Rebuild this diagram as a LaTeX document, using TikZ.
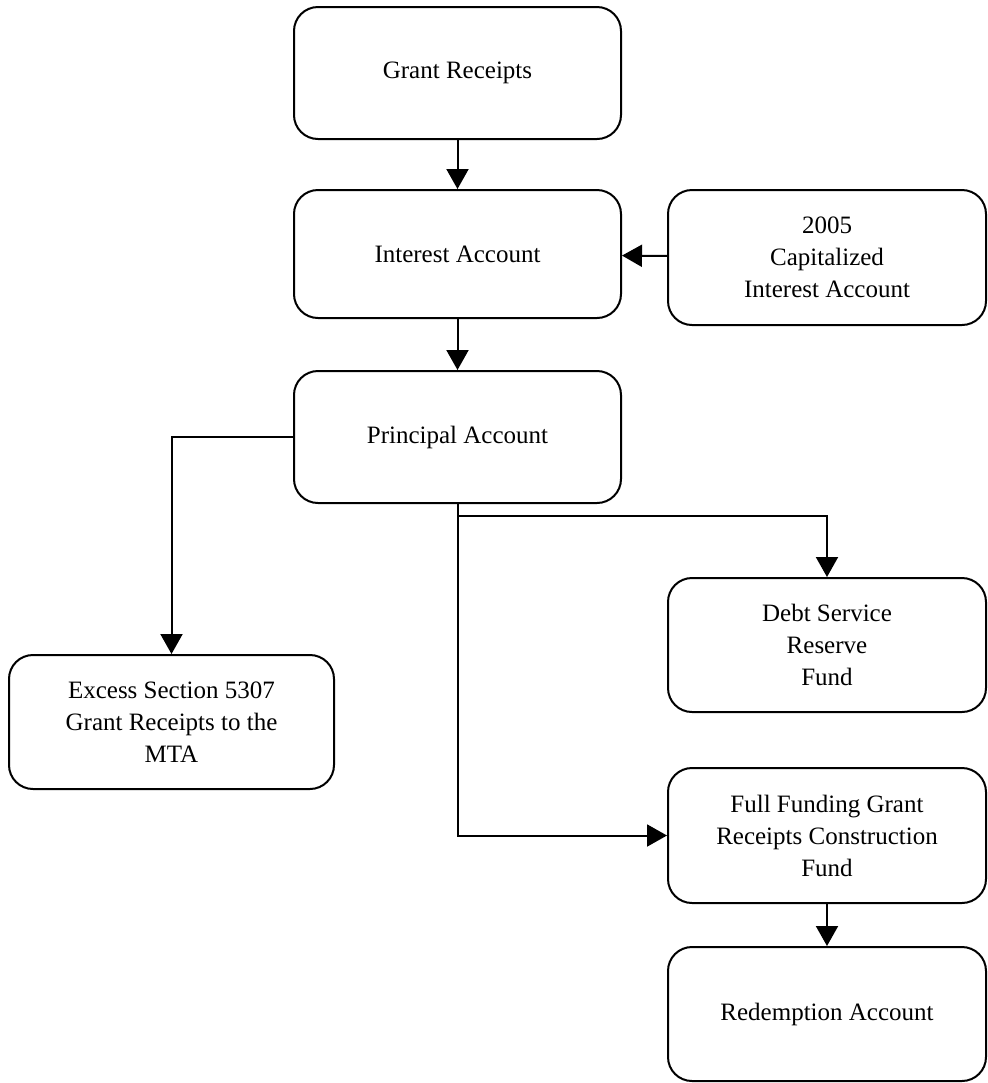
\documentclass[tikz,border=0pt]{standalone}
\usepackage{fontspec}
\setmainfont{Liberation Serif}
\usetikzlibrary{arrows.meta}
\begin{document}
\begin{tikzpicture}[x=0.5pt, y=-0.5pt,
  acct/.style={draw, line width=1pt, rounded corners=12pt, align=center,
    minimum width=163pt, font=\fontsize{12.5}{16}\selectfont},
  flow/.style={line width=1pt, -{Triangle[length=10pt,width=11pt]}}]
\useasboundingbox (0,0) rectangle (987,1083);
\node[acct, minimum width=163.5pt, minimum height=66pt] (grant) at (457.5,73) {Grant Receipts};
\node[acct, minimum width=163.5pt, minimum height=64pt] (interest) at (457.5,254) {Interest Account};
\node[acct, minimum width=159pt, minimum height=67.5pt] (capital) at (827,257.5) {2005\\Capitalized\\Interest Account};
\node[acct, minimum width=163.5pt, minimum height=66pt] (principal) at (457.5,437) {Principal Account};
\node[acct, minimum width=159pt, minimum height=67pt] (debt) at (827,645) {Debt Service\\Reserve\\Fund};
\node[acct, minimum width=162.5pt, minimum height=67pt] (excess) at (171.5,722) {Excess Section 5307\\Grant Receipts to the\\MTA};
\node[acct, minimum width=159pt, minimum height=67.5pt] (full) at (827,835.5) {Full Funding Grant\\Receipts Construction\\Fund};
\node[acct, minimum width=159pt, minimum height=67pt] (redemption) at (827,1014) {Redemption Account};
\coordinate (branch) at (457.5,516);
\draw[flow] (grant) -- (interest);
\draw[flow] (capital) -- (interest);
\draw[flow] (interest) -- (principal);
\draw[flow] (principal.west) -| (excess.north);
\draw[flow] (principal.south) |- (full.west);
\draw[flow] (branch) -| (debt.north);
\draw[flow] (full) -- (redemption);
\end{tikzpicture}
\end{document}
